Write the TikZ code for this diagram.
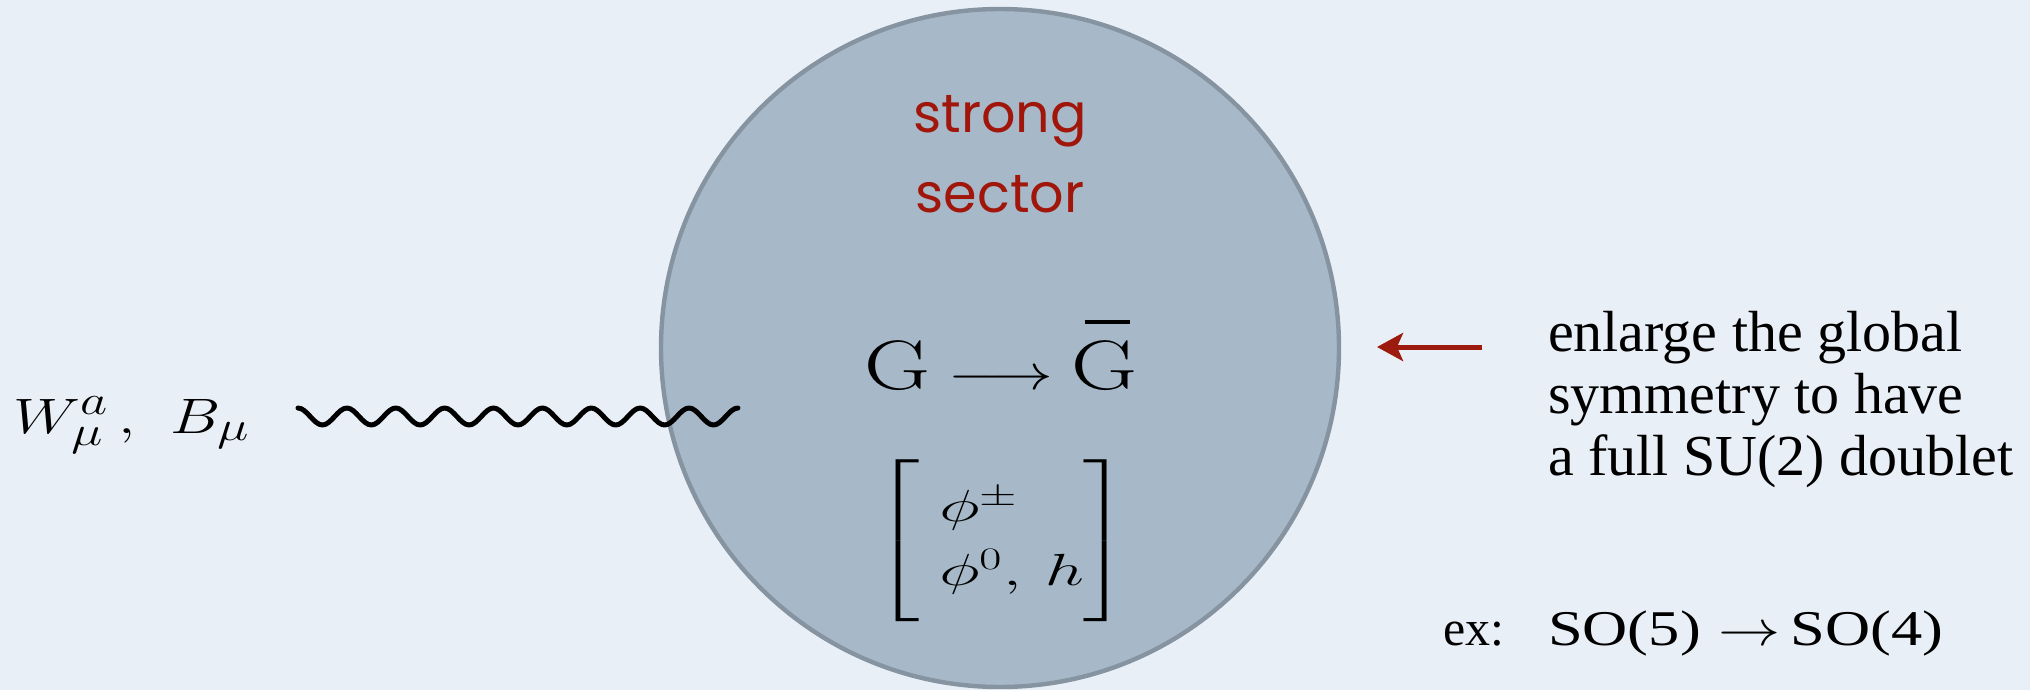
\documentclass[tikz,border=0pt]{standalone}
\usepackage{fontspec}
\usepackage{amsmath}
\usepackage{graphicx}
\usetikzlibrary{arrows.meta}
\newfontfamily\comicfont{Poppins}
\newfontfamily\timesfont{Liberation Serif}
\definecolor{bgcol}{RGB}{233,239,246}
\definecolor{circfill}{RGB}{167,185,200}
\definecolor{circline}{RGB}{134,147,161}
\definecolor{sred}{RGB}{160,22,10}
\definecolor{arrowred}{RGB}{156,26,14}
\newcommand\barG{\rlap{\hspace{0.15em}\raisebox{0.93em}{\rule{0.5em}{0.06em}}}\mathrm{G}}
\tikzset{
  wave/.style={line width=2.5pt, line cap=round, line join=round},
  redarrow/.style={draw=arrowred, line width=2.5pt, -{Stealth[length=13pt,width=14pt,inset=3pt]}},
  lbl/.style={inner sep=0pt, outer sep=0pt},
  comic/.style={lbl, text=sred, font=\comicfont\fontsize{27}{30}\selectfont},
  rtext/.style={lbl, font=\timesfont\fontsize{29}{30.5}\selectfont},
}
\begin{document}
\begin{tikzpicture}[x=0.5pt,y=-0.5pt]
\useasboundingbox (0,0) rectangle (2030,690);
\fill[bgcol] (0,0) rectangle (2030,690);
\node[circle, fill=circfill, draw=circline, line width=2.2pt, minimum size=339pt, inner sep=0pt] (sector) at (1000,348) {};
\node[comic, anchor=base] (strong) at (1000,133) {strong};
\node[comic, anchor=base] (sectorlbl) at (1000,213) {sector};
\node[lbl, anchor=base, font=\fontsize{35}{40}\selectfont] (GG) at (1001,389)
  {\scalebox{1.3}[1]{$\mathrm{G}\longrightarrow\barG$}};
\node[lbl, anchor=center] (mat) at (1002,541)
  {\resizebox*{128pt}{81pt}{\fontsize{26}{35.5}\selectfont$\left[\begin{array}{@{\;}l@{}}\phi^{\pm}\\ \phi^0,\, h\end{array}\vphantom{\rule[-34pt]{0pt}{81pt}}\right]$}};
\node[lbl, anchor=base west, font=\fontsize{31}{36}\selectfont] (W) at (13,433)
  {\scalebox{1.27}[1]{$W^a_\mu\,,\ B_\mu$}};
\coordinate (ws) at (298,408);
\draw[wave] (ws) \foreach \i in {1,...,9} {
  to[out=0,in=180,looseness=0.75] ++(24.44,17) to[out=0,in=180,looseness=0.75] ++(24.44,-17) } coordinate (we);
\coordinate (atail) at (1482,347);
\coordinate (ahead) at (1377,347);
\draw[redarrow] (atail) -- (ahead);
\node[rtext, anchor=base west] (r1) at (1548,351) {enlarge the global};
\node[rtext, anchor=base west] (r2) at (1548,413) {symmetry to have};
\node[rtext, anchor=base west] (r3) at (1548,475) {a full SU(2) doublet};
\node[lbl, anchor=base west, font=\timesfont\fontsize{25}{28}\selectfont] (ex) at (1443,645)
  {ex:\hspace{22pt}\scalebox{1.25}[1]{SO(5)\;$\rightarrow$\,SO(4)}};
\end{tikzpicture}
\end{document}
